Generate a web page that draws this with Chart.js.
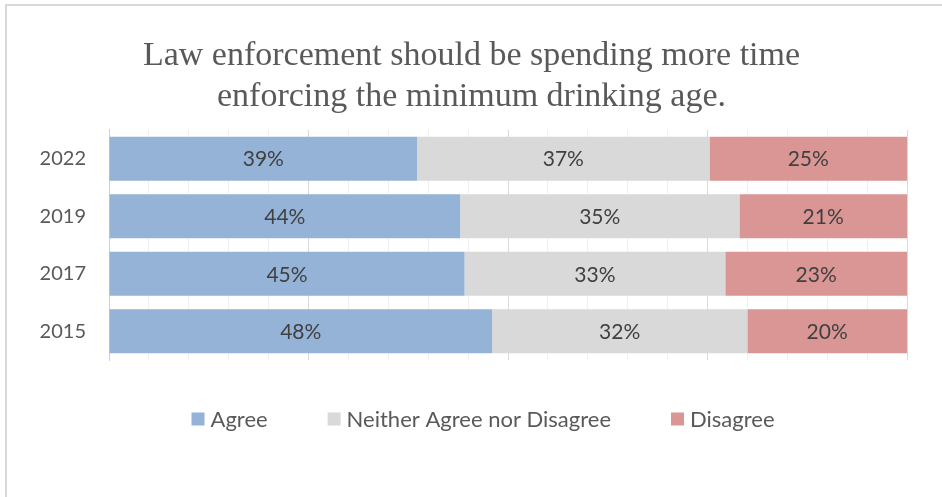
<!DOCTYPE html>
<html>
<head>
<meta charset="utf-8">
<script src="https://cdn.jsdelivr.net/npm/chart.js@4.4.1/dist/chart.umd.min.js"></script>
<style>
  html, body { margin: 0; padding: 0; background: #ffffff; }
  #wrap { position: relative; width: 942px; height: 497px; }
</style>
</head>
<body>
<div id="wrap"><canvas id="chart" width="942" height="497"></canvas></div>
<script>
// Survey years (top to bottom) and response shares in percent
const years = ['2022', '2019', '2017', '2015'];
const agree = [39, 44, 45, 48];
const neither = [37, 35, 33, 32];
const disagree = [25, 21, 23, 20];
const seriesNames = ['Agree', 'Neither Agree nor Disagree', 'Disagree'];
const seriesColors = ['#95b3d7', '#d9d9d9', '#da9694'];
const titleLines = ['Law enforcement should be spending more time', 'enforcing the minimum drinking age.'];

const raw = [agree, neither, disagree];
// 100% stacked: each year's row is scaled to its own total
const totals = years.map((_, i) => raw.reduce((s, arr) => s + arr[i], 0));
const shares = raw.map(arr => arr.map((v, i) => v / totals[i] * 100));

const SANS = 'Lato, "Open Sans", sans-serif';

// Frame line along the top and left edge of the chart
const framePlugin = {
  id: 'frame',
  beforeDraw(chart) {
    const ctx = chart.ctx;
    ctx.save();
    ctx.strokeStyle = '#d9d9d9';
    ctx.lineWidth = 2;
    ctx.beginPath();
    ctx.moveTo(6, chart.height);
    ctx.lineTo(6, 5);
    ctx.lineTo(chart.width, 5);
    ctx.stroke();
    ctx.restore();
  }
};

// Value labels centred in every bar segment
const valueLabels = {
  id: 'valueLabels',
  afterDatasetsDraw(chart) {
    const ctx = chart.ctx;
    ctx.save();
    ctx.font = '21px ' + SANS;
    ctx.fillStyle = '#404040';
    ctx.textAlign = 'center';
    ctx.textBaseline = 'middle';
    chart.data.datasets.forEach((ds, di) => {
      chart.getDatasetMeta(di).data.forEach((el, i) => {
        const cx = (el.x + el.base) / 2;
        ctx.fillText(ds.rawValues[i] + '%', cx, el.y + 1);
      });
    });
    ctx.restore();
  }
};

// Legend row below the plot
const legendRow = {
  id: 'legendRow',
  afterDraw(chart) {
    const ctx = chart.ctx;
    const box = 13, gapText = 6, gapItem = 60, cy = 419;
    ctx.save();
    ctx.font = '22px ' + SANS;
    ctx.textBaseline = 'middle';
    ctx.textAlign = 'left';
    const items = chart.data.datasets.map(ds => ({
      text: ds.label, color: ds.backgroundColor,
      w: box + gapText + ctx.measureText(ds.label).width
    }));
    const total = items.reduce((s, it) => s + it.w, 0) + gapItem * (items.length - 1);
    let x = (chart.width - total) / 2 + 12;
    items.forEach(it => {
      ctx.fillStyle = it.color;
      ctx.fillRect(x, cy - box / 2, box, box);
      ctx.fillStyle = '#595959';
      ctx.fillText(it.text, x + box + gapText, cy + 1);
      x += it.w + gapItem;
    });
    ctx.restore();
  }
};

new Chart(document.getElementById('chart'), {
  type: 'bar',
  data: {
    labels: years,
    datasets: seriesNames.map((name, k) => ({
      label: name,
      data: shares[k],
      rawValues: raw[k],
      backgroundColor: seriesColors[k],
      borderWidth: 0,
      barPercentage: 0.765,
      categoryPercentage: 1
    }))
  },
  options: {
    indexAxis: 'y',
    responsive: false,
    animation: false,
    events: [],
    layout: { padding: { left: 36, right: 35, top: 0, bottom: 137 } },
    plugins: {
      legend: { display: false },
      tooltip: { enabled: false },
      title: {
        display: true,
        text: titleLines,
        color: '#595959',
        font: { family: '"Liberation Serif", serif', size: 34, weight: 'normal', lineHeight: 1.22 },
        padding: { top: 35, bottom: 12 }
      }
    },
    scales: {
      x: {
        stacked: true,
        min: 0,
        max: 100,
        ticks: { stepSize: 5, display: false },
        grid: {
          drawTicks: false,
          color: c => (c.tick && c.tick.value % 25 === 0) ? '#d9d9d9' : '#f0f0f0',
          lineWidth: 1
        },
        border: { display: false },
        afterFit(scale) { scale.height = 0; }
      },
      y: {
        stacked: true,
        ticks: { color: '#595959', font: { family: SANS, size: 20 }, padding: 23 },
        grid: { display: false, drawTicks: false },
        border: { display: true, color: '#d0d0d0', width: 1 },
        afterFit(scale) { scale.width = 73; }
      }
    }
  },
  plugins: [framePlugin, valueLabels, legendRow]
});
</script>
</body>
</html>
